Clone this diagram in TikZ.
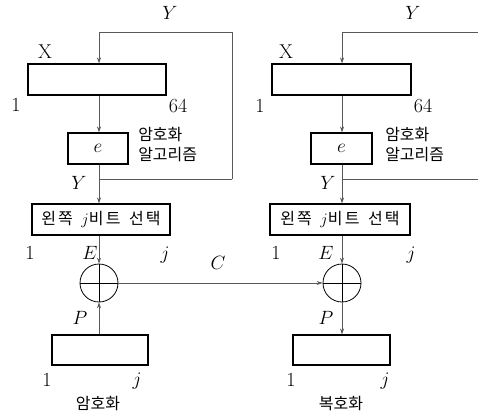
\documentclass[tikz,border=0pt]{standalone}
\usepackage{fontspec}
\newfontfamily\kr{Noto Sans CJK KR}
\newfontfamily\krs[LetterSpace=14]{Noto Sans CJK KR}
\usetikzlibrary{arrows.meta}
\begin{document}
\begin{tikzpicture}[x=0.75pt,y=-0.75pt,
  reg/.style={draw=black, line width=0.8pt, inner sep=0pt, fill=white},
  xor/.style={draw=black, line width=0.6pt, circle, minimum size=38*0.75pt, inner sep=0pt},
  conn/.style={draw=black!65, line width=0.5pt},
  arr/.style={conn, -{Stealth[length=4.5pt,width=3pt]}},
  lab/.style={font=\fontsize{15}{17}\selectfont, inner sep=0pt},
  klab/.style={font=\kr\fontsize{12}{14}\selectfont, inner sep=0pt},
  slab/.style={font=\krs\fontsize{12}{14}\selectfont}
]
\useasboundingbox (0,0) rectangle (478,415);

% ---------- left (encryption) ----------
\node[reg, minimum width=138*0.75pt, minimum height=31*0.75pt] (xl) at (97,79.5) {};
\node[reg, minimum width=60*0.75pt, minimum height=31*0.75pt] (el) at (98,148.5) {\fontsize{15}{17}\selectfont $e$};
\node[reg, slab, minimum width=138*0.75pt, minimum height=31*0.75pt] (sl) at (101,219.5) {왼쪽 \,$j$비트 \,선택};
\node[xor] (ol) at (99,283) {};
\node[reg, minimum width=96*0.75pt, minimum height=30*0.75pt] (pl) at (100,350) {};
\draw[line width=0.6pt] (ol.north) -- (ol.south) (ol.west) -- (ol.east);

\coordinate (lt) at (232,32);
\coordinate (lb) at (232,179);
\draw[arr] (lb) -- (lt) -| (xl.north -| ol.center);
\draw[conn] (lb) -- (lb -| ol.center);
\draw[arr] (xl.south -| ol.center) -- (el.north -| ol.center);
\draw[arr] (el.south -| ol.center) -- (sl.north -| ol.center);
\draw[arr] (sl.south -| ol.center) -- (ol.north);
\draw[arr] (pl.north -| ol.center) -- (ol.south);

\node[lab] (ylt) at (170,13) {$Y$};
\node[lab] (xlx) at (45,52) {X};
\node[lab] (l1a) at (16,105) {1};
\node[lab] (l64) at (178,106) {64};
\node[klab, anchor=west] (lk1) at (138,135) {암호화};
\node[klab, anchor=west] (lk2) at (138,155) {알고리즘};
\node[lab] (lyb) at (79,183) {$Y$};
\node[lab] (l1b) at (30,253) {1};
\node[lab] (lE) at (90,253) {$E$};
\node[lab] (lj) at (165,255) {$j$};
\node[lab] (cC) at (218,263) {$C$};
\node[lab] (lP) at (80,318) {$P$};
\node[lab] (l1c) at (47,380) {1};
\node[lab] (lj2) at (137,381) {$j$};
\node[klab] (lk3) at (98,403) {암호화};

% ---------- right (decryption) ----------
\node[reg, minimum width=139*0.75pt, minimum height=31*0.75pt] (xr) at (341.5,79.5) {};
\node[reg, minimum width=61*0.75pt, minimum height=31*0.75pt] (er) at (341.5,148.5) {\fontsize{15}{17}\selectfont $e$};
\node[reg, slab, minimum width=140*0.75pt, minimum height=31*0.75pt] (sr) at (340,219.5) {왼쪽 \,$j$비트 \,선택};
\node[xor] (or) at (342,283) {};
\node[reg, minimum width=97*0.75pt, minimum height=30*0.75pt] (pr) at (341.5,350) {};
\draw[line width=0.6pt] (or.north) -- (or.south) (or.west) -- (or.east);

\coordinate (rt) at (478,32);
\coordinate (rb) at (478,179);
\draw[arr] (rt) -| (xr.north -| or.center);
\draw[conn] (rb) -- (rb -| or.center);
\draw[arr] (xr.south -| or.center) -- (er.north -| or.center);
\draw[arr] (er.south -| or.center) -- (sr.north -| or.center);
\draw[arr] (sr.south -| or.center) -- (or.north);
\draw[arr] (or.south) -- (pr.north -| or.center);
\draw[arr] (ol.east) -- (or.west);

\node[lab] (yrt) at (413,13) {$Y$};
\node[lab] (xrx) at (286,52) {X};
\node[lab] (r1a) at (260,106) {1};
\node[lab] (r64) at (423,106) {64};
\node[klab, anchor=west] (rk1) at (385,135) {암호화};
\node[klab, anchor=west] (rk2) at (385,155) {알고리즘};
\node[lab] (ryb) at (328,183) {$Y$};
\node[lab] (r1b) at (276,253) {1};
\node[lab] (rE) at (326,253) {$E$};
\node[lab] (rj) at (411,255) {$j$};
\node[lab] (rP) at (326,318) {$P$};
\node[lab] (r1c) at (291,380) {1};
\node[lab] (rj2) at (385,381) {$j$};
\node[klab] (rk3) at (341,403) {복호화};
\end{tikzpicture}
\end{document}
